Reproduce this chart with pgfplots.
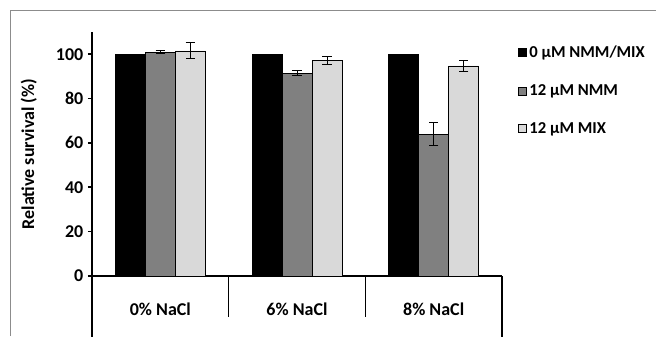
\documentclass[border=0pt]{standalone}
\usepackage{fontspec}
\setmainfont{Carlito}
\usepackage{pgfplots}
\pgfplotsset{compat=1.18}
\definecolor{dg}{HTML}{808080}
\definecolor{lg}{HTML}{D9D9D9}
\begin{document}
\begin{tikzpicture}[x=0.75pt,y=0.75pt]
\begin{axis}[
  at={(69pt,45pt)}, anchor=south west,
  scale only axis, width=307.5pt, height=183pt,
  xmin=0, xmax=3, ymin=0, ymax=110,
  axis x line*=bottom, axis y line*=left,
  axis line style={line width=1.2pt},
  /pgf/number format/assume math mode=true,
  ytick={0,20,40,60,80,100},
  ytick style={line width=1.2pt, draw=black},
  tick align=outside, major tick length=3pt,
  xtick={0.5,1.5,2.5},
  xticklabels={0\% NaCl,6\% NaCl,8\% NaCl},
  xtick style={draw=none},
  tick label style={font=\bfseries\fontsize{13.5}{16}\selectfont},
  xticklabel style={yshift=-13.5pt},
  ylabel={Relative survival (\%)},
  ylabel style={font=\bfseries\fontsize{13.5}{16}\selectfont, at={(axis description cs:-0.154,0.5)}, anchor=center},
  ybar=0pt, bar width=22.5pt,
  legend style={at={(1.039,0.955)}, anchor=north west, draw=none, fill=none,
    font=\bfseries\fontsize{12.5}{15}\selectfont, row sep=14.6pt, inner sep=0pt},
  legend cell align=left,
  legend image code/.code={\draw[#1, draw=black, line width=0.4pt] (0pt,-3pt) rectangle (6pt,3pt);},
  error bars/error bar style={line width=0.6pt, black},
  error bars/error mark options={rotate=90, mark size=3.5pt, line width=0.6pt, black},
]
\addplot[fill=black, draw=black, line width=0.5pt] coordinates {(0.5,100) (1.5,100) (2.5,100)};
\addplot[fill=dg, draw=black, line width=0.5pt, error bars/.cd, y dir=both, y explicit]
  coordinates {(0.5,100.9) +- (0,0.7) (1.5,91.4) +- (0,1.1) (2.5,63.9) +- (0,5.2)};
\addplot[fill=lg, draw=black, line width=0.5pt, error bars/.cd, y dir=both, y explicit]
  coordinates {(0.5,101.5) +- (0,3.6) (1.5,97.3) +- (0,1.8) (2.5,94.7) +- (0,2.5)};
\legend{0 µM NMM/MIX, 12 µM NMM, 12 µM MIX}
\coordinate (c0) at (axis cs:0,0);
\coordinate (c1) at (axis cs:1,0);
\coordinate (c2) at (axis cs:2,0);
\coordinate (c3) at (axis cs:3,0);
\end{axis}
\draw[line width=1.2pt] (c0) -- ++(0pt,-50pt);
\draw[line width=1.2pt] (c3) -- ++(0pt,-50pt);
\draw[line width=1.2pt] (c1) -- ++(0pt,-30.75pt);
\draw[line width=1.2pt] (c2) -- ++(0pt,-30.75pt);
\draw[black!45, line width=0.75pt] (7.5pt,0pt) -- (7.5pt,243.75pt) -- (495pt,243.75pt);
\pgfresetboundingbox
\useasboundingbox (0pt,0pt) rectangle (492pt,252pt);
\end{tikzpicture}
\end{document}
